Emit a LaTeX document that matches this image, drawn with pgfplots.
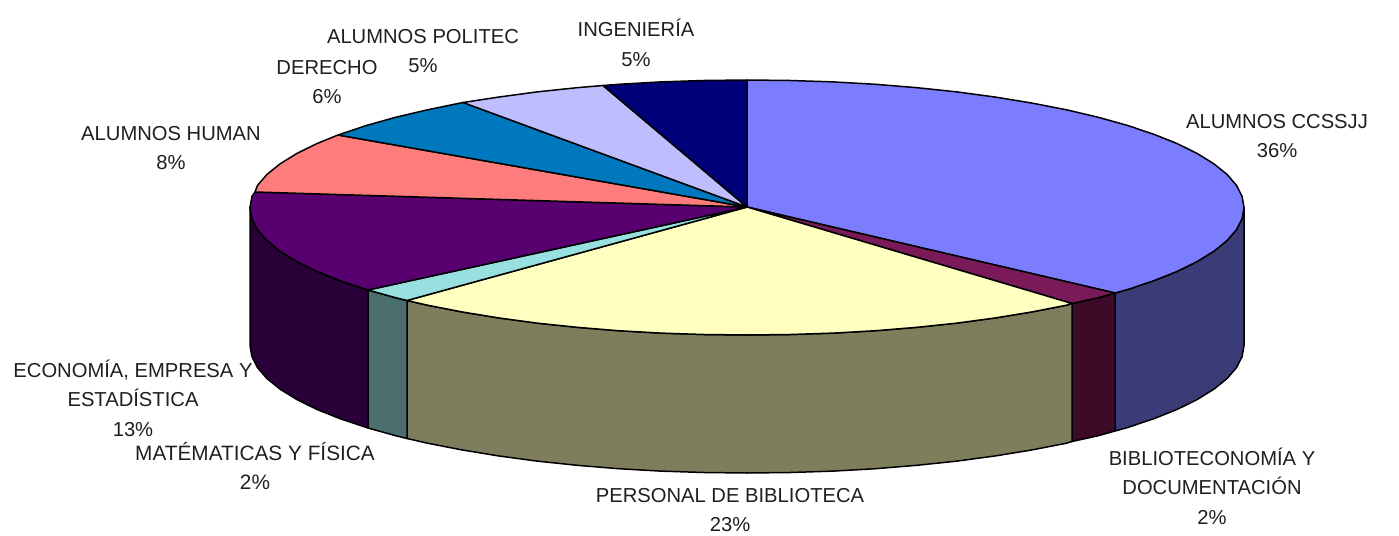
\documentclass[border=0pt]{standalone}
\usepackage{pgfplots}
\pgfplotsset{compat=1.18}
\usepackage{fontspec}
\setmainfont{Liberation Sans}
\definecolor{cA}{HTML}{7C7CFF}\definecolor{cAs}{HTML}{3B3B78}
\definecolor{cB}{HTML}{7A1A58}\definecolor{cBs}{HTML}{3D0A28}
\definecolor{cC}{HTML}{FFFFC0}\definecolor{cCs}{HTML}{7E7E5C}
\definecolor{cD}{HTML}{98E0E0}\definecolor{cDs}{HTML}{4A6E6E}
\definecolor{cE}{HTML}{580070}\definecolor{cEs}{HTML}{2A0038}
\definecolor{cF}{HTML}{FF7C7C}
\definecolor{cG}{HTML}{0078BE}
\definecolor{cH}{HTML}{BEBEFF}
\definecolor{cI}{HTML}{000078}
\tikzset{lab/.style={font=\fontsize{20.2}{29.5}\selectfont, align=center, text=black!88, inner sep=0pt}}
\begin{document}
\begin{tikzpicture}
\begin{axis}[
  scale only axis, width=1399pt, height=535pt,
  xmin=0, xmax=1399, ymin=0, ymax=535, y dir=reverse,
  hide axis, clip=false,
  every axis plot/.append style={draw=black, line width=1.5pt, line join=round},
]
\path (axis cs:0,0) rectangle (axis cs:1399,535);
% side walls
\addplot[fill=cAs] coordinates {(1115,293)(1127.7,289.5)(1154.1,280.6)(1177.4,271.3)(1197.4,261.4)(1214,251.1)(1227.1,240.5)(1236.5,229.6)(1242.1,218.6)(1244,207.5)(1244,345.5)(1242.1,356.6)(1236.5,367.6)(1227.1,378.5)(1214,389.1)(1197.4,399.4)(1177.4,409.3)(1154.1,418.6)(1127.7,427.5)(1115,431)} --cycle;
\addplot[fill=cBs] coordinates {(1115,293)(1098.4,297.7)(1072,303.5)(1072,441.5)(1098.4,435.7)(1115,431)} --cycle;
\addplot[fill=cCs] coordinates {(1072,303.5)(1066.5,305.2)(1032.1,311.9)(995.5,317.9)(957,323.1)(917,327.3)(875.6,330.7)(833.3,333.1)(790.3,334.5)(747,335)(703.7,334.5)(660.7,333.1)(618.4,330.7)(577,327.3)(537,323.1)(498.5,317.9)(461.9,311.9)(427.5,305.2)(407,300.5)(407,438.5)(427.5,443.2)(461.9,449.9)(498.5,455.9)(537,461.1)(577,465.3)(618.4,468.7)(660.7,471.1)(703.7,472.5)(747,473)(790.3,472.5)(833.3,471.1)(875.6,468.7)(917,465.3)(957,461.1)(995.5,455.9)(1032.1,449.9)(1066.5,443.2)(1072,441.5)} --cycle;
\addplot[fill=cDs] coordinates {(407,300.5)(395.6,297.7)(368,290)(368,428)(395.6,435.7)(407,438.5)} --cycle;
\addplot[fill=cEs] coordinates {(368,290)(339.9,280.6)(316.6,271.3)(296.6,261.4)(280,251.1)(266.9,240.5)(257.5,229.6)(251.9,218.6)(250,207.5)(250,345.5)(251.9,356.6)(257.5,367.6)(266.9,378.5)(280,389.1)(296.6,399.4)(316.6,409.3)(339.9,418.6)(368,428)} --cycle;
% top faces
\addplot[fill=cA] coordinates {(747,207)(747,80)(790.3,80.5)(833.3,81.9)(875.6,84.3)(917,87.7)(957,91.9)(995.5,97.1)(1032.1,103.1)(1066.5,109.8)(1098.4,117.3)(1127.7,125.5)(1154.1,134.4)(1177.4,143.7)(1197.4,153.6)(1214,163.9)(1227.1,174.5)(1236.5,185.4)(1242.1,196.4)(1244,207.5)(1242.1,218.6)(1236.5,229.6)(1227.1,240.5)(1214,251.1)(1197.4,261.4)(1177.4,271.3)(1154.1,280.6)(1127.7,289.5)(1115,293)} --cycle;
\addplot[fill=cB] coordinates {(747,207)(1115,293)(1098.4,297.7)(1072,303.5)} --cycle;
\addplot[fill=cC] coordinates {(747,207)(1072,303.5)(1066.5,305.2)(1032.1,311.9)(995.5,317.9)(957,323.1)(917,327.3)(875.6,330.7)(833.3,333.1)(790.3,334.5)(747,335)(703.7,334.5)(660.7,333.1)(618.4,330.7)(577,327.3)(537,323.1)(498.5,317.9)(461.9,311.9)(427.5,305.2)(407,300.5)} --cycle;
\addplot[fill=cD] coordinates {(747,207)(407,300.5)(395.6,297.7)(368,290)} --cycle;
\addplot[fill=cE] coordinates {(747,207)(368,290)(339.9,280.6)(316.6,271.3)(296.6,261.4)(280,251.1)(266.9,240.5)(257.5,229.6)(251.9,218.6)(250,207.5)(251.9,196.4)(255,192)} --cycle;
\addplot[fill=cF] coordinates {(747,207)(255,192)(257.5,185.4)(266.9,174.5)(280,163.9)(296.6,153.6)(316.6,143.7)(338,135)} --cycle;
\addplot[fill=cG] coordinates {(747,207)(338,135)(339.9,134.4)(366.3,125.5)(395.6,117.3)(427.5,109.8)(463,102.5)} --cycle;
\addplot[fill=cH] coordinates {(747,207)(463,102.5)(498.5,97.1)(537,91.9)(577,87.7)(603,85.5)} --cycle;
\addplot[fill=cI] coordinates {(747,207)(603,85.5)(618.4,84.3)(660.7,81.9)(703.7,80.5)(747,80)} --cycle;
% labels
\node[lab] at (axis cs:636,43) {INGENIERÍA\\5\%};
\node[lab] at (axis cs:423,51) {ALUMNOS POLITEC\\5\%};
\node[lab] at (axis cs:327,82) {DERECHO\\6\%};
\node[lab] at (axis cs:171,148) {ALUMNOS HUMAN\\8\%};
\node[lab] at (axis cs:1277,136) {ALUMNOS CCSSJJ\\36\%};
\node[lab] at (axis cs:1212,486) {BIBLIOTECONOMÍA Y\\DOCUMENTACIÓN\\2\%};
\node[lab] at (axis cs:730,510) {PERSONAL DE BIBLIOTECA\\23\%};
\node[lab,font=\fontsize{20.8}{29.5}\selectfont] at (axis cs:255,466) {MATÉMATICAS Y FÍSICA\\2\%};
\node[lab] at (axis cs:133,398) {ECONOMÍA, EMPRESA Y\\ESTADÍSTICA\\13\%};
\end{axis}
\end{tikzpicture}
\end{document}
